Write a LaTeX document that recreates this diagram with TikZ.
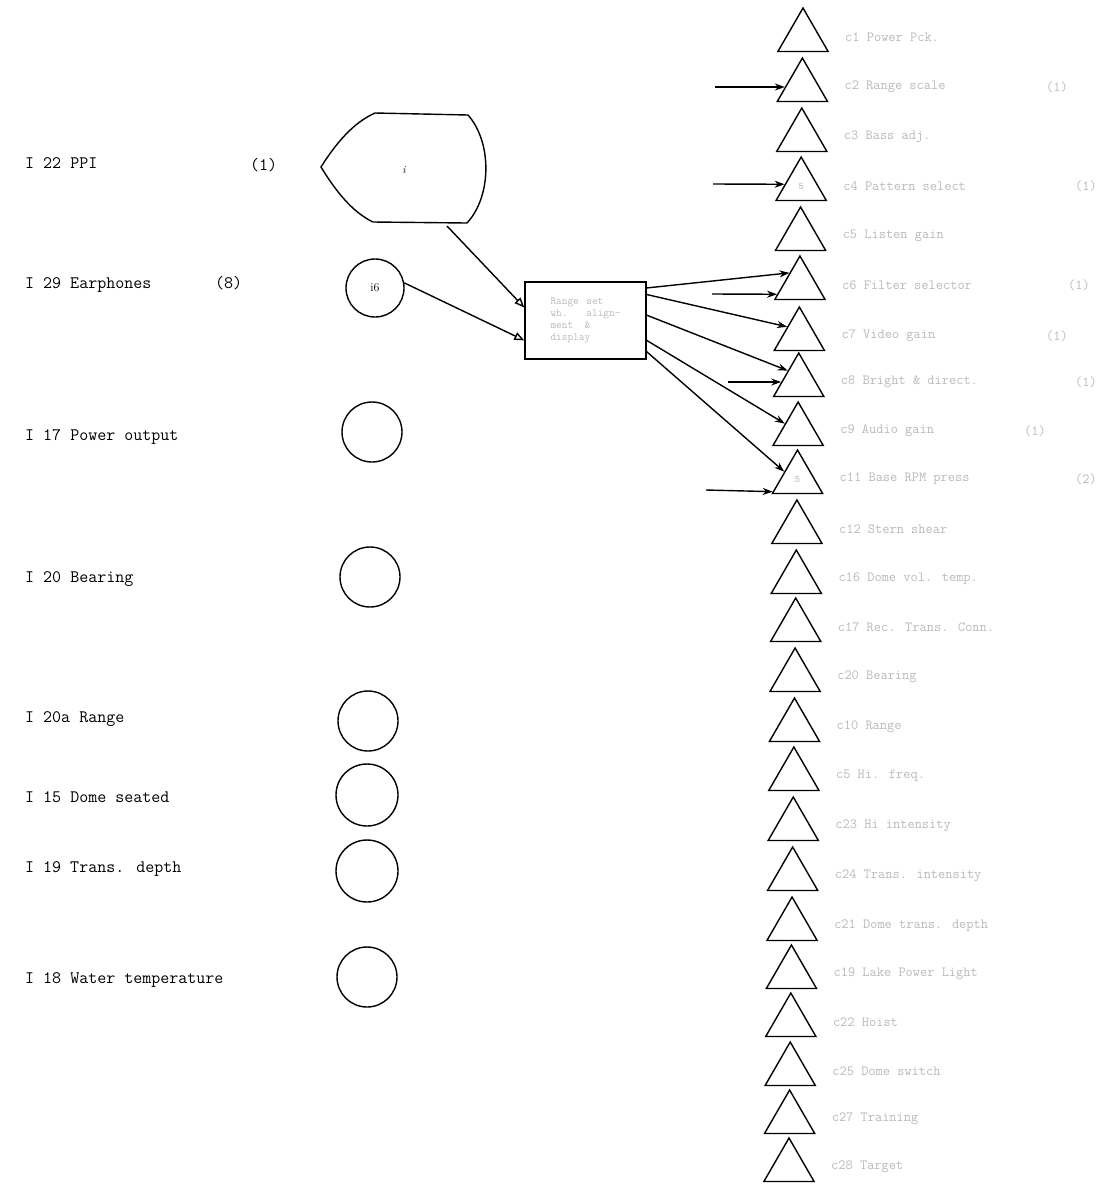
\documentclass[tikz,border=0pt]{standalone}
\usetikzlibrary{shapes.geometric,arrows.meta}
\begin{document}
\begin{tikzpicture}[x=1pt,y=-1pt,
  ink/.style={line width=1.4pt,black},
  tri/.style={regular polygon,regular polygon sides=3,minimum size=58pt,inner sep=0pt,draw,line width=1.4pt,font=\ttfamily\fontsize{10}{10}\selectfont\color{gray!60}},
  ring/.style={circle,draw,line width=1.4pt,minimum size=60pt,inner sep=0pt},
  leftlab/.style={anchor=base west,inner sep=0pt,font=\ttfamily\fontsize{17.5}{20}\selectfont},
  rightlab/.style={anchor=west,inner sep=0pt,text=gray!55,font=\ttfamily\fontsize{14}{15}\selectfont},
  onelab/.style={anchor=east,inner sep=0pt,text=gray!55,font=\ttfamily\fontsize{14}{15}\selectfont},
  openarr/.style={ink,-{Triangle[open,length=10pt,width=8pt]}},
  solidarr/.style={ink,-{Stealth[length=10pt,width=7pt]}}
]
\useasboundingbox (0,0) rectangle (1104,1187);

% left labels
\node[leftlab] (l1) at (25,168) {I 22 PPI};
\node[leftlab] (l1n) at (250,170) {(1)};
\node[leftlab] (l2) at (25,288) {I 29 Earphones};
\node[leftlab] (l2n) at (215,288) {(8)};
\node[leftlab] (l3) at (25,440) {I 17 Power output};
\node[leftlab] (l4) at (25,582) {I 20 Bearing};
\node[leftlab] (l5) at (25,722) {I 20a Range};
\node[leftlab] (l6) at (25,802) {I 15 Dome seated};
\node[leftlab] (l7) at (25,872) {I 19 Trans. depth};
\node[leftlab] (l8) at (25,983) {I 18 Water temperature};

% PPI shield
\draw[ink] (321,167) .. controls (338,140) and (355,122) .. (375,113) -- (468,115)
  .. controls (492,142) and (492,196) .. (467,223) -- (373,222)
  .. controls (352,212) and (335,190) .. (321,167) -- cycle;
\node[font=\itshape\fontsize{11}{11}\selectfont] (ppi) at (404,170) {i};
\coordinate (ppiout) at (447,226);

% circles
\node[ring,minimum size=58pt,font=\fontsize{12}{12}\selectfont] (c16) at (375,288) {i6};
\node[ring] (c2) at (372,432) {};
\node[ring] (c3) at (370,577) {};
\node[ring] (c4) at (368,721) {};
\node[ring,minimum size=62pt] (c5) at (367,795) {};
\node[ring,minimum size=62pt] (c6) at (367,871) {};
\node[ring] (c7) at (367,977) {};

% central box
\node[draw,line width=1.4pt,minimum width=121pt,minimum height=77pt,inner sep=3pt,
  align=left,text=gray!55,font=\ttfamily\fontsize{11}{12}\selectfont] (box) at (585.5,320.5)
  {Range \,set\\wh. \ \ align-\\ment \ \&\\display};

% triangles
\foreach \i/\ap in {1/8,2/58,3/108,4/157,5/207,6/256,7/307,8/353,9/402,10/450,11/500,12/550,
                    13/598,14/648,15/698,16/747,17/797,18/847,19/897,20/945,21/993,22/1042,23/1090,24/1138}{
  \pgfmathsetmacro{\cx}{803-(\i-1)*14/23}
  \pgfmathsetmacro{\cy}{\ap+29}
  \ifnum\i=4
    \node[tri] (t\i) at (\cx,\cy) {5};
  \else\ifnum\i=10
    \node[tri] (t\i) at (\cx,\cy) {5};
  \else
    \node[tri] (t\i) at (\cx,\cy) {};
  \fi\fi
}

% right labels
\foreach \i/\txt in {1/{c1 Power Pck.},2/{c2 Range scale},3/{c3 Bass adj.},4/{c4 Pattern select},
  5/{c5 Listen gain},6/{c6 Filter selector},7/{c7 Video gain},8/{c8 Bright \& direct.},
  9/{c9 Audio gain},10/{c11 Base RPM press},11/{c12 Stern shear},12/{c16 Dome vol. temp.},
  13/{c17 Rec. Trans. Conn.},14/{c20 Bearing},15/{c10 Range},16/{c5 Hi. freq.},
  17/{c23 Hi intensity},18/{c24 Trans. intensity},19/{c21 Dome trans. depth},
  20/{c19 Lake Power Light},21/{c22 Hoist},22/{c25 Dome switch},23/{c27 Training},24/{c28 Target}}{
  \node[rightlab] (r\i) at ([xshift=42pt]t\i.center) {\txt};
}
\node[onelab] (n2) at (1068,87) {(1)};
\node[onelab] (n4) at (1097,186) {(1)};
\node[onelab] (n6) at (1090,285) {(1)};
\node[onelab] (n7) at (1068,336) {(1)};
\node[onelab] (n8) at (1097,382) {(1)};
\node[onelab] (n9) at (1046,431) {(1)};
\node[onelab] (n10) at (1097,479) {(2)};

% inputs to box
\draw[openarr] (ppiout) -- (box.168);
\draw[openarr] (c16.10) -- (box.198);

% outputs from box
\draw[solidarr] (box.28) -- (t6.131);
\draw[solidarr] (box.23) -- (t7.143);
\draw[solidarr] (box.5) -- (t8.134);
\draw[solidarr] (box.-18) -- (t9.151);
\draw[solidarr] (box.-27.5) -- (t10.151);

% horizontal inputs
\coordinate (s2) at (715,87);
\coordinate (s4) at (713,184);
\coordinate (s6) at (712,294);
\coordinate (s8) at (728,382);
\coordinate (s10) at (706,490);
\draw[solidarr] (s2) -- (t2.180);
\draw[solidarr] (s4) -- (t4.174);
\draw[solidarr] (s6) -- (t6.202);
\draw[solidarr] (s8) -- (t8.180);
\draw[solidarr] (s10) -- (t10.207);
\end{tikzpicture}
\end{document}
